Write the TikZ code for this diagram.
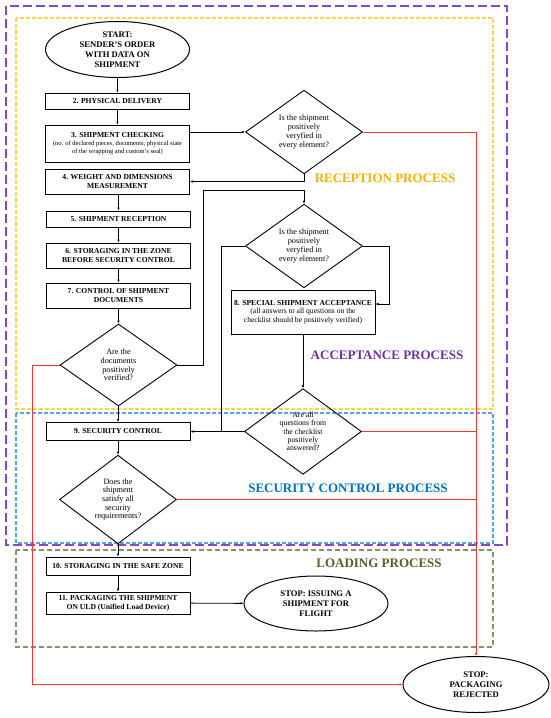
\documentclass[tikz,border=0pt]{standalone}
\usepackage{fontspec}
\setmainfont{Liberation Serif}
\usetikzlibrary{shapes.geometric,arrows.meta}
\definecolor{cpurple}{HTML}{8448C4}
\definecolor{cyellow}{HTML}{FFD54F}
\definecolor{cblue}{HTML}{5BA3E0}
\definecolor{cgreen}{HTML}{849270}
\definecolor{lgold}{HTML}{F2B200}
\definecolor{lpurple}{HTML}{7030A0}
\definecolor{lblue}{HTML}{0070C0}
\definecolor{lgreen}{HTML}{4F6228}
\definecolor{cred}{HTML}{F53434}
\begin{document}
\begin{tikzpicture}[x=1pt,y=-1pt,
  box/.style={draw=black, line width=1pt, minimum width=144pt, inner sep=0pt, align=center, font=\fontsize{7.6}{8.6}\selectfont\bfseries},
  dia/.style={draw=black, diamond, line width=0.9pt, minimum width=117pt, minimum height=82pt, inner sep=0pt, align=center, font=\fontsize{8.2}{8.7}\selectfont},
  term/.style={draw=black, ellipse, line width=1pt, minimum width=144pt, minimum height=56pt, inner sep=0pt, align=center, font=\fontsize{8.6}{10}\selectfont\bfseries},
  flow/.style={line width=0.9pt, -{Latex[length=3pt,width=2.6pt]}},
  link/.style={line width=0.9pt},
  rej/.style={cred, line width=0.9pt},
  rejflow/.style={cred, line width=0.9pt, -{Latex[length=3pt,width=2.6pt]}},
  plabel/.style={font=\fontsize{13}{15}\selectfont\bfseries, inner sep=0pt}
]
\useasboundingbox (0,0) rectangle (550,718);

% zones
\draw[cyellow, line width=1.1pt, dash pattern=on 4pt off 2pt] (16,18) rectangle (493,409);
\draw[cblue, line width=1.1pt, dash pattern=on 4pt off 2pt] (16,413) rectangle (493,543);
\draw[cgreen, line width=1.1pt, dash pattern=on 5pt off 3pt] (16,550) rectangle (493,647);
\draw[cpurple, line width=1.6pt, dash pattern=on 9pt off 4pt] (6,6) rectangle (507,545);

% zone labels
\node[plabel, text=lgold] (lrec) at (385,178) {RECEPTION PROCESS};
\node[plabel, text=lpurple] (lacc) at (387,355) {ACCEPTANCE PROCESS};
\node[plabel, text=lblue] (lsec) at (348,488) {SECURITY CONTROL PROCESS};
\node[plabel, text=lgreen] (lload) at (379,563) {LOADING PROCESS};

% main column
\node[term] (start) at (117.5,49.5) {START:\\SENDER’S ORDER\\WITH DATA ON\\SHIPMENT};
\node[box, minimum height=16pt] (b2) at (117.5,101) {2. PHYSICAL DELIVERY};
\node[box, minimum height=37pt, font=\fontsize{6.5}{7.6}\selectfont] (b3) at (117.5,143.5)
  {{\fontsize{7.6}{8.6}\selectfont\bfseries 3. SHIPMENT CHECKING}\\[1pt](no. of declared pieces, documents, physical state\\of the wrapping and custom’s seal)};
\node[box, minimum height=25pt] (b4) at (117.5,181.5) {4. WEIGHT AND DIMENSIONS\\MEASUREMENT};
\node[box, minimum height=16pt] (b5) at (118.5,219) {5. SHIPMENT RECEPTION};
\node[box, minimum height=25pt] (b6) at (118.5,255.5) {6. STORAGING IN THE ZONE\\BEFORE SECURITY CONTROL};
\node[box, minimum height=25pt] (b7) at (118.5,295.5) {7. CONTROL OF SHIPMENT\\DOCUMENTS};
\node[dia] (d3) at (118.5,365) {Are the\\documents\\positively\\verified?};
\node[box, minimum height=18pt] (b9) at (118,431.5) {9. SECURITY CONTROL};
\node[dia] (d5) at (118,499.5) {Does the\\shipment\\satisfy all\\security\\requirements?};
\node[box, minimum height=18pt] (b10) at (118,566) {10. STORAGING IN THE SAFE ZONE};
\node[box, minimum height=22pt] (b11) at (118,603) {11. PACKAGING THE SHIPMENT\\ON ULD (Unified Load Device)};
\node[term, minimum height=55pt] (stop1) at (316,603.5) {STOP: ISSUING A\\SHIPMENT FOR\\FLIGHT};

% right column
\node[dia] (d1) at (304,132) {Is the shipment\\positively\\veryfied in\\every element?};
\node[dia] (d2) at (304,246) {Is the shipment\\positively\\veryfied in\\every element?};
\node[box, minimum height=44pt, font=\fontsize{7.6}{8.4}\selectfont] (b8) at (303,312)
  {{\bfseries 8. SPECIAL SHIPMENT ACCEPTANCE}\\(all answers to all questions on the\\checklist should be positively verified)};
\node[dia, font=\fontsize{7.8}{8.4}\selectfont] (d4) at (303,431.5) {Are all\\questions from\\the checklist\\positively\\answered?};
\node[term, minimum width=146pt] (stop2) at (476,684.5) {STOP:\\PACKAGING\\REJECTED};

\coordinate (k1) at (203,190);
\coordinate (k2) at (389,304);
\coordinate (k3) at (221,431.5);
\coordinate (k4) at (32,684.5);

% black connectors
\draw[flow] (start) -- (b2);
\draw[flow] (b2) -- (b3);
\draw[flow] (b3.east |- d1.west) -- (d1.west);
\draw[flow] (d1.south) |- (b4.east);
\draw[flow] (b4.south -| b5.north) -- (b5.north);
\draw[flow] (b5) -- (b6);
\draw[flow] (b6) -- (b7);
\draw[flow] (b7) -- (d3);
\draw[flow] (d3.east) -| (k1) -| (d2.north);
\draw[flow] (d2.east) -| (k2) -- (b8.east |- k2);
\draw[link] (d2.west) -| (k3);
\draw[flow] (b8) -- (d4);
\draw[flow] (d4.west) -- (b9.east);
\draw[flow] (d3.south -| b9.north) -- (b9.north);
\draw[flow] (b9) -- (d5);
\draw[flow] (d5) -- (b10);
\draw[flow] (b10) -- (b11);
\draw[flow] (b11) -- (stop1);

% red connectors
\draw[rejflow] (d1.east) -| (stop2.north);
\draw[rej] (d4.east) -- (stop2.north |- d4.east);
\draw[rej] (d5.east) -- (stop2.north |- d5.east);
\draw[rejflow] (d3.west) -| (k4) -- (stop2.west);
\end{tikzpicture}
\end{document}
